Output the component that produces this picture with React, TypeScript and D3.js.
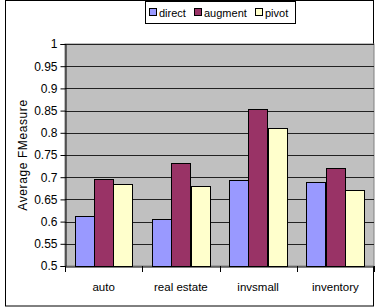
import { useEffect, useRef } from "react";
import * as d3 from "d3";

const categories = ["auto", "real estate", "invsmall", "inventory"];
const seriesNames = ["direct", "augment", "pivot"];
const direct = [0.612, 0.605, 0.693, 0.689];
const augment = [0.695, 0.733, 0.854, 0.721];
const pivot = [0.684, 0.68, 0.81, 0.671];
const yTicks = [0.5, 0.55, 0.6, 0.65, 0.7, 0.75, 0.8, 0.85, 0.9, 0.95, 1];
const colors = ["#9999FF", "#993366", "#FFFFCC"];

const App = () => {
  const ref = useRef<SVGSVGElement>(null);

  useEffect(() => {
    const svg = d3.select(ref.current);
    svg.selectAll("*").remove();
    const W = 375;
    const H = 308;
    const left = 65;
    const right = 374;
    const top = 44;
    const bottom = 266;
    const font = "Arial, 'Liberation Sans', sans-serif";

    // outer frame
    svg
      .append("rect")
      .attr("x", 5.5)
      .attr("y", 0.5)
      .attr("width", W - 7)
      .attr("height", H - 2.5)
      .attr("fill", "#fff")
      .attr("stroke", "#000");

    const x = d3.scaleBand().domain(categories).range([left, right]);
    const x1 = d3
      .scaleBand()
      .domain(seriesNames)
      .range([0, x.bandwidth()])
      .paddingOuter(0.5)
      .paddingInner(0);
    const y = d3.scaleLinear().domain([0.5, 1]).range([bottom, top]);

    // plot area
    svg
      .append("rect")
      .attr("x", left)
      .attr("y", top)
      .attr("width", right - left)
      .attr("height", bottom - top)
      .attr("fill", "#C0C0C0")
      .attr("stroke", "#808080");

    // gridlines
    svg
      .append("g")
      .selectAll("line")
      .data(yTicks.slice(1))
      .enter()
      .append("line")
      .attr("x1", left)
      .attr("x2", right)
      .attr("y1", (d) => Math.round(y(d)) + 0.5)
      .attr("y2", (d) => Math.round(y(d)) + 0.5)
      .attr("stroke", "#222");

    // bars
    const series = [direct, augment, pivot];
    categories.forEach((c, i) => {
      series.forEach((s, j) => {
        const bx = x(c)! + x1(seriesNames[j])!;
        svg
          .append("rect")
          .attr("x", Math.round(bx) + 0.5)
          .attr("y", Math.round(y(s[i])) + 0.5)
          .attr("width", Math.round(x1.bandwidth()))
          .attr("height", Math.round(bottom - y(s[i])))
          .attr("fill", colors[j])
          .attr("stroke", "#000");
      });
    });

    // y axis
    const yAxis = svg
      .append("g")
      .attr("transform", `translate(${left + 0.5},0)`)
      .call(
        d3
          .axisLeft(y)
          .tickValues(yTicks)
          .tickSize(5)
          .tickPadding(3)
          .tickFormat((d) => String(+d))
      );
    yAxis.select(".domain").attr("stroke", "#000");
    yAxis
      .selectAll("text")
      .attr("font-family", font)
      .attr("font-size", 12)
      .attr("fill", "#000");

    // x axis
    const xAxis = svg
      .append("g")
      .attr("transform", `translate(0,${bottom + 0.5})`)
      .call(d3.axisBottom(x).tickSize(0).tickPadding(16));
    xAxis.select(".domain").attr("stroke", "#000");
    xAxis
      .selectAll("text")
      .attr("font-family", font)
      .attr("font-size", 11.5)
      .attr("fill", "#000");
    svg
      .append("g")
      .selectAll("line")
      .data(categories.map((c) => x(c)!).concat([right]))
      .enter()
      .append("line")
      .attr("x1", (d) => Math.round(d) + 0.5)
      .attr("x2", (d) => Math.round(d) + 0.5)
      .attr("y1", bottom)
      .attr("y2", bottom + 6)
      .attr("stroke", "#000");

    // axis title
    svg
      .append("text")
      .attr("transform", `translate(27,${(top + bottom) / 2}) rotate(-90)`)
      .attr("text-anchor", "middle")
      .attr("font-family", font)
      .attr("font-size", 12)
      .attr("letter-spacing", 0.6)
      .text("Average FMeasure");

    // legend
    const lg = svg.append("g");
    lg.append("rect")
      .attr("x", 145.5)
      .attr("y", 1.5)
      .attr("width", 150)
      .attr("height", 22)
      .attr("fill", "#fff")
      .attr("stroke", "#000");
    const legendX = [149, 194, 255];
    seriesNames.forEach((n, j) => {
      lg.append("rect")
        .attr("x", legendX[j] + 0.5)
        .attr("y", 8.5)
        .attr("width", 7)
        .attr("height", 7)
        .attr("fill", colors[j])
        .attr("stroke", "#000");
      lg.append("text")
        .attr("x", legendX[j] + 10)
        .attr("y", 17)
        .attr("font-family", font)
        .attr("font-size", 11)
        .text(n);
    });
  }, []);

  return (
    <svg
      ref={ref}
      width={375}
      height={308}
      style={{ position: "absolute", left: 0, top: 0, display: "block" }}
    />
  );
};

export default App;
